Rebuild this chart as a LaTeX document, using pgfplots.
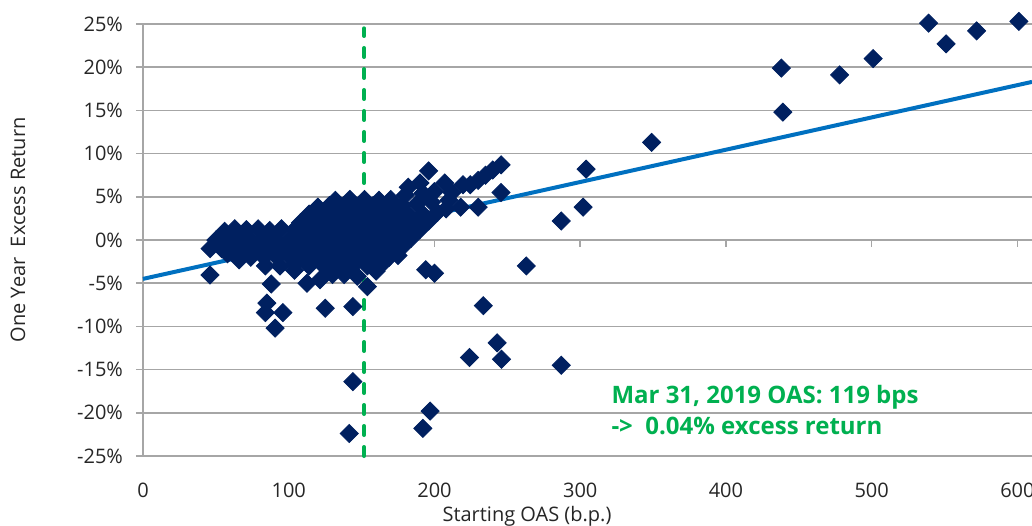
\documentclass[border=0pt]{standalone}
\usepackage{fontspec}
\setmainfont{Open Sans}
\usepackage{pgfplots}
\pgfplotsset{compat=1.18}
\usetikzlibrary{calc}
\definecolor{navy}{HTML}{002060}
\definecolor{trend}{HTML}{0070C0}
\definecolor{ggreen}{HTML}{00B050}
\definecolor{gridgray}{HTML}{A6A6A6}
\definecolor{txt}{HTML}{262626}

\pgfplotstableread{
x y
601 25.3
572 24.2
551 22.7
539 25.1
501 21.0
478 19.1
439 14.8
438 19.9
349 11.3
304 8.2
302 3.8
287 2.2
263 -3.0
287 -14.5
246 -13.8
224 -13.6
243 -11.9
233.5 -7.6
200 -3.85
194 -3.45
197 -19.8
192 -21.8
144 -7.7
125 -7.9
144 -16.4
141.5 -22.4
88 -5.1
85 -7.3
96 -8.4
84 -8.4
90.6 -10.2
46 -4.05
154 -5.4
112.5 -5.0
121.5 -4.6
245.7 8.7
240 8.1
235 7.5
230 6.9
224.5 6.4
219.6 6.4
245.7 5.5
230 3.8
218 3.8
196 8.0
207 6.6
190 6.6
182 6.1
104 -3.5
130 -4.0
138 -4.0
147 -4.2
160 -3.6
84 -3.0
94 -3.0
104 -2.8
114 -3.0
124 -3.0
134 -3.0
144 -3.0
154 -3.0
164 -2.8
58 -1.6
66 -2.3
74 -2.0
83 -2.0
92 -2.0
101 -2.0
110 -2.0
119 -2.0
129 -2.0
139 -2.0
149 -2.0
159 -2.0
169 -2.0
175 -1.8
46 -1.0
54 -1.0
62 -1.0
70 -1.0
78 -1.0
87 -1.0
96 -1.0
105 -1.0
114 -1.0
124 -1.0
134 -1.0
144 -1.0
154 -1.0
164 -1.0
172 -1.0
178 -0.8
50 0.0
58 0.0
66 0.0
74 0.0
82 0.0
91 0.0
100 0.0
109 0.0
118 0.0
128 0.0
138 0.0
148 0.0
158 0.0
168 0.0
176 0.0
184 0.2
56 1.0
63 1.3
71 1.2
79 1.3
87 1.1
95 1.3
104 1.2
113 1.0
123 1.0
133 1.0
143 1.0
153 1.0
163 1.0
173 1.0
182 1.0
190 1.2
108 2.0
117 2.0
127 2.0
137 2.0
147 2.0
157 2.0
167 2.0
177 2.0
187 2.0
196 2.2
114 3.0
122 3.0
132 3.0
142 3.0
152 3.0
162 3.0
172 3.0
182 3.0
192 3.0
202 3.2
208 3.6
120 3.8
128 4.0
138 4.0
148 4.0
158 4.0
168 4.0
178 4.0
188 4.2
198 4.4
210 4.6
132 4.6
142 4.7
152 4.7
162 4.6
170 4.7
180 5.2
192 5.4
200 5.6
212 5.5
}\points

\begin{document}
\begin{tikzpicture}
\begin{axis}[
  name=ax,
  scale only axis, width=444.5pt, height=216pt,
  xmin=0, xmax=610, ymin=-25, ymax=25,
  axis lines*=left,
  axis line style={gridgray, line width=0.75pt},
  xtick={0,100,...,600},
  xticklabels={0,100,200,300,400,500,600},
  ytick={-25,-20,...,25},
  yticklabels={-25\%,-20\%,-15\%,-10\%,-5\%,0\%,5\%,10\%,15\%,20\%,25\%},
  x tick style={draw=none},
  y tick style={gridgray, line width=0.75pt},
  tick align=outside, major tick length=3.5pt,
  xmajorgrids=false, ymajorgrids=true, grid style={gridgray, line width=0.75pt},
  tick label style={font=\fontsize{10}{12}\selectfont, text=txt},
  xticklabel style={anchor=base, yshift=-17pt},
  yticklabel style={xshift=-3pt},
  clip=false,
]
\addplot[trend, line width=2pt, forget plot] coordinates {(0,-4.5) (610,18.3)};
\addplot[ggreen, line width=2pt, dash pattern=on 4.5pt off 6pt, line cap=round, forget plot] coordinates {(151.7,-25) (151.7,24.5)};
\addplot[only marks, mark=square*, mark size=3.2pt, mark options={rotate=45, fill=navy, draw=navy}] table[x=x, y=y] {\points};
\pgfplotsinvokeforeach{100,200,300,400,500,600}{
  \draw[gridgray, line width=0.75pt] (axis cs:#1,0) -- ([yshift=-3.5pt]axis cs:#1,0);
}
\node[anchor=base west, inner sep=0, text=ggreen, font=\bfseries\fontsize{12}{14}\selectfont] at (axis cs:321.2,-18.9) {Mar 31, 2019 OAS: 119 bps};
\node[anchor=base west, inner sep=0, text=ggreen, font=\bfseries\fontsize{12}{14}\selectfont] at (axis cs:321.2,-22.5) {->\ \ 0.04\% excess return};
\end{axis}
\node[rotate=90, anchor=center, inner sep=0, text=txt, font=\fontsize{10}{12}\selectfont] at ($(ax.south west)+(-62.5pt,113pt)$) {One Year\ \ Excess Return};
\node[anchor=base, inner sep=0, text=txt, font=\fontsize{10}{12}\selectfont] at ($(ax.south west)+(192pt,-32.5pt)$) {Starting OAS (b.p.)};
\pgfresetboundingbox
\path[use as bounding box] ($(ax.south west)+(-71.5pt,-34.5pt)$) rectangle ($(ax.north east)+(0,12pt)$);
\end{tikzpicture}
\end{document}
